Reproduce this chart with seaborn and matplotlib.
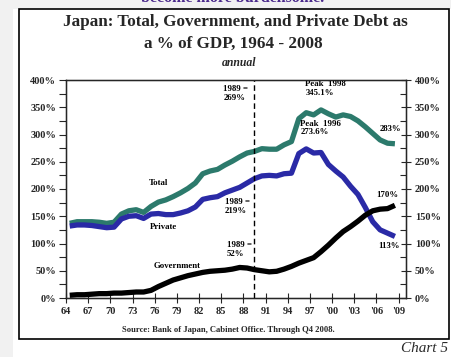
import matplotlib
matplotlib.use('Agg')
import matplotlib.pyplot as plt
from matplotlib.patches import Rectangle
from matplotlib.ticker import MultipleLocator, FuncFormatter
import seaborn as sns
import pandas as pd

sns.set_style('white')
plt.rcParams['font.family'] = ['Liberation Serif', 'DejaVu Serif']

# debt as % of GDP, 1964 - 2008
years = list(range(1964, 2009))
total = [137, 140, 140, 140, 139, 137, 139, 154, 160, 162,
         157, 168, 176, 180, 186, 193, 201, 211, 228, 233,
         236, 244, 251, 259, 266, 269, 274, 273, 273, 281,
         287, 329, 340, 336, 345.1, 338, 332, 336, 333, 325,
         314, 302, 290, 284, 283]
private = [132, 134, 134, 133, 131, 129, 130, 145, 150, 151,
           146, 154, 155, 153, 153, 156, 160, 167, 181, 184,
           186, 193, 198, 203, 211, 219, 224, 225, 224, 228,
           229, 265, 273.6, 266, 267, 245, 233, 222, 205, 190,
           166, 140, 125, 119, 113]
government = [5, 6, 6, 7, 8, 8, 9, 9, 10, 11,
              11, 14, 21, 27, 33, 37, 41, 44, 47, 49,
              50, 51, 53, 56, 55, 52, 50, 48, 49, 53,
              58, 64, 69, 74, 85, 97, 110, 122, 131, 141,
              152, 160, 163, 164, 170]
xtick_years = list(range(1964, 2010, 3))
xtick_labels = ['64', '67', '70', '73', '76', '79', '82', '85', '88',
                '91', '94', '97', "'00", "'03", "'06", "'09"]

df = pd.DataFrame({'year': years, 'Total': total, 'Private': private,
                   'Government': government})
df['x'] = df['year'] + 0.5  # annual points drawn mid-year
long_df = df.melt(id_vars=['year', 'x'], var_name='series', value_name='pct')

colors = {'Total': '#2c7a6c', 'Private': '#2a2aa6', 'Government': '#000000'}

fig = plt.figure(figsize=(4.52, 3.57), dpi=100)
fig.patch.set_facecolor('white')
# grey page margins and the chart frame (behind the axes)
fig.patches.append(Rectangle((0, 0), 13 / 452, 1, transform=fig.transFigure,
                             facecolor='#f1f1f1', edgecolor='none', zorder=-3))
fig.patches.append(Rectangle((0, 1 - 9 / 357), 1, 9 / 357, transform=fig.transFigure,
                             facecolor='#f1f1f1', edgecolor='none', zorder=-3))
fig.patches.append(Rectangle((19 / 452, 1 - 339 / 357), 430 / 452, 330 / 357,
                             transform=fig.transFigure, facecolor='white',
                             edgecolor='black', linewidth=1.2, zorder=-2))

ax = fig.add_axes([66 / 452, 1 - 298 / 357, 340 / 452, 218 / 357])
ax.patch.set_alpha(0)
sns.lineplot(data=long_df, x='x', y='pct', hue='series', palette=colors,
             linewidth=3.8, legend=False, ax=ax, solid_capstyle='butt')

ax.set_xlim(1964, 2010)
ax.set_ylim(0, 400)
ax.set_xlabel('')
ax.set_ylabel('')
ax.axvline(1989.4, color='black', linestyle=(0, (4, 2.5)), linewidth=1.0)

for s in ax.spines.values():
    s.set_visible(True)
    s.set_color('black')
    s.set_linewidth(1.0)

pct_fmt = FuncFormatter(lambda v, p: f'{int(v)}%')
ax.set_xticks(xtick_years)
ax.set_xticklabels(xtick_labels, fontsize=7.5, fontweight='bold')
ax.tick_params(axis='x', direction='inout', length=7, width=0.8, pad=3, bottom=True)
ax.yaxis.set_major_locator(MultipleLocator(50))
ax.yaxis.set_minor_locator(MultipleLocator(25))
ax.yaxis.set_major_formatter(pct_fmt)
ax.tick_params(axis='y', which='both', direction='out', length=5, width=0.8,
               labelsize=7.5, pad=2, left=True)
for lab in ax.get_yticklabels():
    lab.set_fontweight('bold')

ax2 = ax.twinx()
ax2.set_ylim(0, 400)
ax2.yaxis.set_major_locator(MultipleLocator(50))
ax2.yaxis.set_minor_locator(MultipleLocator(25))
ax2.yaxis.set_major_formatter(pct_fmt)
ax2.tick_params(axis='y', which='major', direction='inout', length=7, width=0.8,
                labelsize=7.5, pad=3, right=True)
ax2.tick_params(axis='y', which='minor', direction='in', length=4, width=0.8, right=True)
for lab in ax2.get_yticklabels():
    lab.set_fontweight('bold')

# annotations
note = dict(fontsize=6.3, fontweight='bold', color='black', linespacing=1.15)
ax.text(1985.3, 375, '1989 =\n269%', ha='left', va='center', **note)
ax.text(1985.5, 168, '1989 =\n219%', ha='left', va='center', **note)
ax.text(1985.8, 89, '1989 =\n52%', ha='left', va='center', **note)
ax.text(1996.4, 385, 'Peak  1998\n345.1%', ha='left', va='center', **note)
ax.text(1995.7, 312, 'Peak  1996\n273.6%', ha='left', va='center', **note)
ax.text(2009.3, 310, '283%', ha='right', va='center', **note)
ax.text(2009.0, 189, '170%', ha='right', va='center', **note)
ax.text(2009.1, 95, '113%', ha='right', va='center', **note)
ax.text(1976.5, 211, 'Total', ha='center', va='center', **note)
ax.text(1977.2, 131, 'Private', ha='center', va='center', **note)
ax.text(1979.1, 59, 'Government', ha='center', va='center', **note)

# titles and footers (the top line is cut off in the source picture too)
fig.text(233 / 452, 1 - 1.5 / 357, 'become more burdensome.', ha='center', va='baseline',
         fontsize=11.5, fontweight='bold', color='#4b2a8c')
fig.text(235 / 452, 1 - 22 / 357, 'Japan: Total, Government, and Private Debt as',
         ha='center', va='center', fontsize=12.3, fontweight='bold')
fig.text(233 / 452, 1 - 44 / 357, 'a % of GDP, 1964 - 2008', ha='center', va='center',
         fontsize=12.3, fontweight='bold')
fig.text(239 / 452, 1 - 63 / 357, 'annual', ha='center', va='center',
         fontsize=8.5, fontstyle='italic', fontweight='bold')
fig.text(228 / 452, 1 - 330 / 357, 'Source: Bank of Japan, Cabinet Office. Through Q4 2008.',
         ha='center', va='center', fontsize=6.2, fontweight='bold')
fig.text(448 / 452, 1 - 348 / 357, 'Chart 5', ha='right', va='center',
         fontsize=11, fontstyle='italic', color='#2a2a2a')

fig.savefig('out.png', dpi=100)
